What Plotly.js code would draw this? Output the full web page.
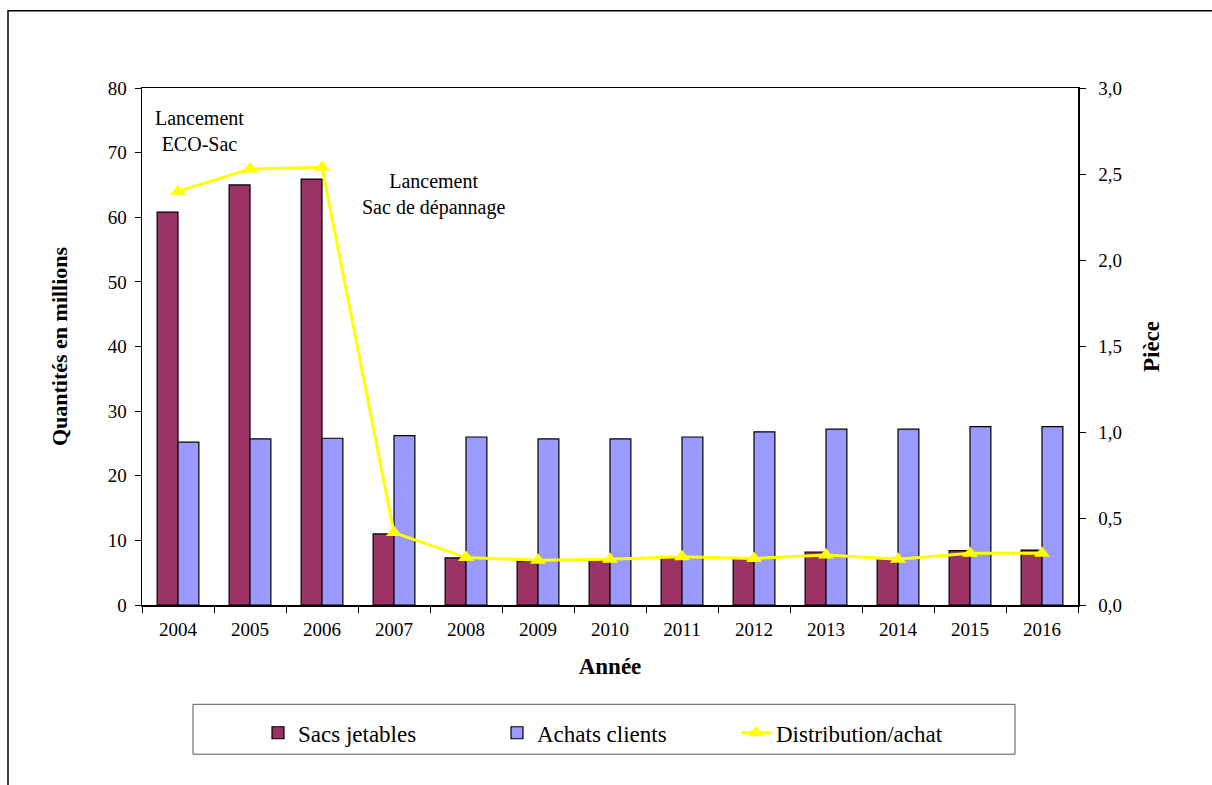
<!DOCTYPE html>
<html>
<head>
<meta charset="utf-8">
<script src="https://cdn.plot.ly/plotly-3.0.1.min.js"></script>
<style>
html,body{margin:0;padding:0;background:#fff;}
#chart{width:1212px;height:785px;}
</style>
</head>
<body>
<div id="chart"></div>
<script>
const years = ['2004','2005','2006','2007','2008','2009','2010','2011','2012','2013','2014','2015','2016'];
const sacsJetables = [60.8, 65.0, 65.9, 11.0, 7.3, 6.8, 7.0, 7.3, 7.2, 8.2, 7.2, 8.4, 8.5];
const achatsClients = [25.2, 25.7, 25.8, 26.2, 26.0, 25.7, 25.7, 26.0, 26.8, 27.2, 27.2, 27.6, 27.6];
const distributionAchat = [2.40, 2.53, 2.54, 0.42, 0.275, 0.26, 0.265, 0.28, 0.27, 0.29, 0.265, 0.30, 0.30];
const leftTicks = [0, 10, 20, 30, 40, 50, 60, 70, 80];
const rightTicks = [0, 0.5, 1.0, 1.5, 2.0, 2.5, 3.0];

const FONT = "Liberation Serif";

const W = 1212, H = 785;
const L = 142, R = 1078, T = 87.5, B = 605.5;
const px = x => (x - L) / (R - L);
const py = y => (B - y) / (B - T);

const traces = [
  {type:'bar', name:'Sacs jetables', x:years, y:sacsJetables,
   marker:{color:'#993366', line:{color:'#000', width:1.2}}},
  {type:'bar', name:'Achats clients', x:years, y:achatsClients,
   marker:{color:'#9999FF', line:{color:'#000', width:1.2}}},
  {type:'scatter', mode:'lines+markers', name:'Distribution/achat', x:years, y:distributionAchat,
   yaxis:'y2', line:{color:'#FFFF00', width:3},
   marker:{symbol:'triangle-up', size:14, color:'#FFFF00'}}
];

const layout = {
  width:W, height:H,
  margin:{l:L, r:W-R, t:T, b:H-B},
  paper_bgcolor:'#fff', plot_bgcolor:'#fff',
  font:{family:FONT, color:'#000', size:19},
  separators:',.',
  barmode:'group', bargap:0.42, bargroupgap:0,
  showlegend:true,
  legend:{orientation:'h', x:px(258), xanchor:'left', y:py(712), yanchor:'top',
    font:{family:FONT, size:23, color:'#000'}, bgcolor:'rgba(0,0,0,0)', borderwidth:0,
    entrywidth:194, entrywidthmode:'pixels', traceorder:'normal'},
  xaxis:{type:'category', range:[-0.5, 12.5], autorange:false,
    showline:true, linecolor:'#000', linewidth:1.5, mirror:true,
    ticks:'outside', tickson:'boundaries', ticklen:6, tickcolor:'#000',
    tickfont:{family:FONT, size:19}, ticklabelstandoff:7, showgrid:false, zeroline:false,
    title:{text:'<b>Année</b>', font:{family:FONT, size:23}, standoff:18}},
  yaxis:{range:[0,80], tickvals:leftTicks, showline:true, linecolor:'#000', linewidth:1.5,
    ticks:'outside', ticklen:6, tickcolor:'#000', showgrid:false, zeroline:false,
    tickfont:{family:FONT, size:19}, ticklabelstandoff:4,
    title:{text:'<b>Quantités en millions</b>', font:{family:FONT, size:22}, standoff:34}},
  yaxis2:{range:[0,3], tickvals:rightTicks, tickformat:'.1f', overlaying:'y', side:'right',
    showline:true, linecolor:'#000', linewidth:1.5, ticks:'outside', ticklen:6, tickcolor:'#000',
    showgrid:false, zeroline:false, tickfont:{family:FONT, size:19}, ticklabelstandoff:9,
    title:{text:'<b>Pièce</b>', font:{family:FONT, size:23}, standoff:22}},
  annotations:[
    {xref:'paper', yref:'paper', x:px(199), y:py(131), xanchor:'center', yanchor:'middle',
     text:'Lancement<br>ECO-Sac', showarrow:false, font:{family:FONT, size:20}, align:'center'},
    {xref:'paper', yref:'paper', x:px(433), y:py(194), xanchor:'center', yanchor:'middle',
     text:'Lancement<br>Sac de dépannage', showarrow:false, font:{family:FONT, size:20}, align:'center'}
  ],
  shapes:[
    {type:'rect', xref:'paper', yref:'paper', x0:px(8), x1:px(1216), y0:py(790), y1:py(10),
     line:{color:'#000', width:1.5}, fillcolor:'rgba(0,0,0,0)', layer:'below'},
    {type:'rect', xref:'paper', yref:'paper', x0:px(193), x1:px(1015), y0:py(755), y1:py(705),
     line:{color:'#555', width:1}, fillcolor:'rgba(0,0,0,0)', layer:'below'}
  ]
};

Plotly.newPlot('chart', traces, layout, {displayModeBar:false, staticPlot:true});
</script>
</body>
</html>
